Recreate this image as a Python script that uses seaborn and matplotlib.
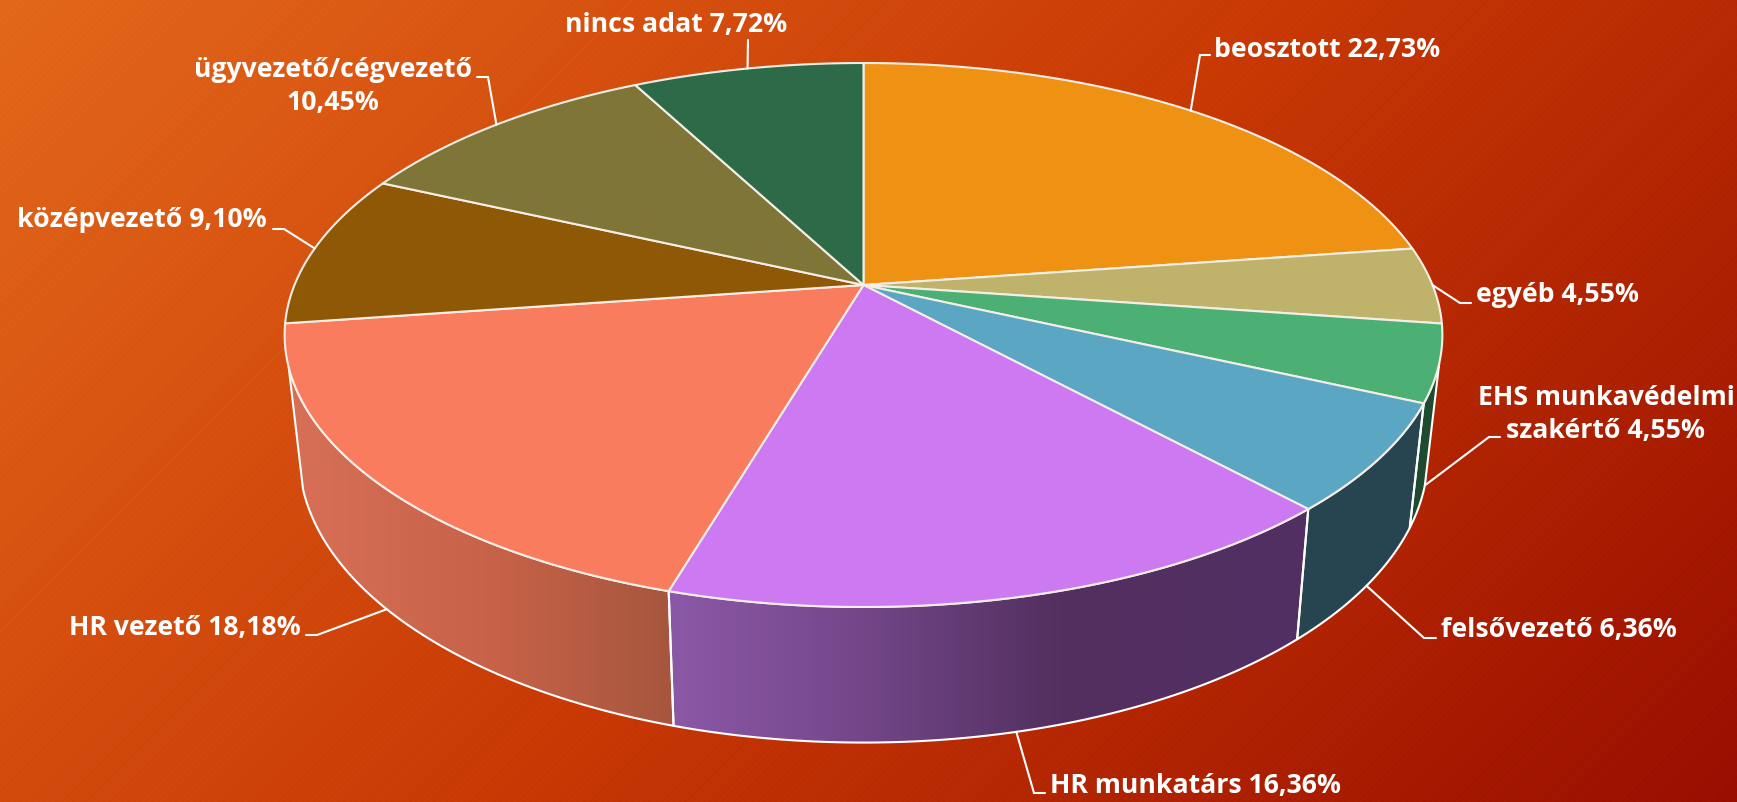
import numpy as np
import matplotlib
matplotlib.use("Agg")
import matplotlib.pyplot as plt
from matplotlib.colors import to_rgb
from matplotlib.patches import Polygon
import seaborn as sns

# ---------- data ----------
first_lines = ["beosztott 22,73%", "egyéb 4,55%", "EHS munkavédelmi", "felsővezető 6,36%",
               "HR munkatárs 16,36%", "HR vezető 18,18%", "középvezető 9,10%",
               "ügyvezető/cégvezető", "nincs adat 7,72%"]
second_lines = ["", "", "szakértő 4,55%", "", "", "", "", "10,45%", ""]
values = [22.73, 4.55, 4.55, 6.36, 16.36, 18.18, 9.10, 10.45, 7.72]
top_colors = ["#EF9214", "#BFB26B", "#4CAF74", "#5BA6C2", "#CC79F2",
              "#F97C5E", "#8F5807", "#7E7536", "#2D6A47"]

# ---------- layout (pixels of the 1737x802 canvas) ----------
W, H = 1737, 802
label_x = [1214, 1476, 1606, 1441, 1050, 301, 267, 333, 676]
label_y = [50, 295, 398, 630, 786, 628, 220, 70, 25]
label_ha = ["left", "left", "center", "left", "left", "right", "right", "center", "center"]
line_gap = 33
elbow_x = [1200, 1460, 1489, 1424, 1034, 317, 284, 488, 748]
elbow_y = [55, 303, 437, 638, 793, 635, 229, 77, 40]
end_x = [1210, 1471, 1500, 1436, 1045, 306, 273, 477, 748]
on_bottom_rim = [False, False, True, True, True, True, False, False, False]

CX, CY = 863.5, 285.0
A, B, PERSP = 569.0, 262.8, 0.1838
SIDE_FROM, SIDE_TO = 106.4, 252.8
FONT_SIZE = 19.2
LINE_W = 1.5


def top_point(deg):
    t = np.radians(deg)
    u, v = np.sin(t), np.cos(t)
    w = 1 + PERSP * v
    return CX + A * u / w, CY - B * v / w


def bottom_point(deg):
    x, y = top_point(deg)
    return CX + 0.975 * (x - CX), y + 127.5 + 0.055 * (y - 460)


sns.set_theme(style="white")
plt.rcParams["font.family"] = ["Open Sans", "DejaVu Sans"]
palette = sns.color_palette(top_colors)

fig = plt.figure(figsize=(W / 100, H / 100), dpi=100)
ax = fig.add_axes([0, 0, 1, 1])

# ---------- background ----------
yy, xx = np.mgrid[0:H, 0:W]
t = (xx + yy) / (W + H)
bg_stops = [to_rgb("#E3681B"), to_rgb("#C93A05"), to_rgb("#990E00")]
bg = np.stack([np.interp(t, [0, 0.5, 1], [s[i] for s in bg_stops]) for i in range(3)], axis=-1)
stripes = 0.004 * np.sign(np.sin((xx + yy) * 2 * np.pi / 6))
bg = np.clip(bg + stripes[..., None], 0, 1)
ax.imshow(bg, extent=(0, W, H, 0), aspect="auto", zorder=0, interpolation="nearest")

# ---------- geometry from values ----------
edges = np.concatenate([[0], np.cumsum(values)]) / np.sum(values) * 360.0

# ---------- side wall ----------
side_styles = [
    (2, ["#1E4B30", "#1E4B30"], [1400, 1450]),
    (3, ["#264550", "#264550"], [1290, 1430]),
    (4, ["#8B58A6", "#74478A", "#53305F", "#522F63"], [674, 855, 1060, 1300]),
    (5, ["#D66F55", "#C66248", "#A5563D"], [303, 500, 674]),
]
col_x = np.arange(W) + 0.5
for idx, cols, stops_x in side_styles:
    a0 = max(edges[idx], SIDE_FROM)
    a1 = min(edges[idx + 1], SIDE_TO)
    th = np.linspace(a0, a1, 100)
    pts = [top_point(d) for d in th] + [bottom_point(d) for d in th[::-1]]
    poly = Polygon(pts, closed=True, facecolor="none", edgecolor="white", lw=LINE_W, zorder=3)
    ax.add_patch(poly)
    rgb = [to_rgb(c) for c in cols]
    band = np.stack([np.interp(col_x, stops_x, [c[i] for c in rgb]) for i in range(3)], axis=-1)
    img = ax.imshow(band[None, :, :], extent=(0, W, H, 0), aspect="auto", zorder=2)
    img.set_clip_path(poly)

# ---------- top face ----------
for i, col in enumerate(palette):
    th = np.linspace(edges[i], edges[i + 1], 120)
    pts = [(CX, CY)] + [top_point(d) for d in th]
    ax.add_patch(Polygon(pts, closed=True, facecolor=col, edgecolor="#F4EEE6",
                         lw=LINE_W, joinstyle="round", zorder=4))

# ---------- leaders and labels ----------
for i in range(len(values)):
    mid = (edges[i] + edges[i + 1]) / 2
    sx, sy = bottom_point(mid) if on_bottom_rim[i] else top_point(mid)
    ax.plot([sx, elbow_x[i], end_x[i]], [sy, elbow_y[i], elbow_y[i]], color="white",
            lw=LINE_W, zorder=5, solid_joinstyle="miter")
    ax.text(label_x[i], label_y[i], first_lines[i], color="white", fontsize=FONT_SIZE,
            fontweight="bold", ha=label_ha[i], va="center", zorder=6)
    if second_lines[i]:
        ax.text(label_x[i], label_y[i] + line_gap, second_lines[i], color="white",
                fontsize=FONT_SIZE, fontweight="bold", ha=label_ha[i], va="center", zorder=6)

ax.set_xlim(0, W)
ax.set_ylim(H, 0)
ax.axis("off")
fig.savefig("out.png", dpi=100)
